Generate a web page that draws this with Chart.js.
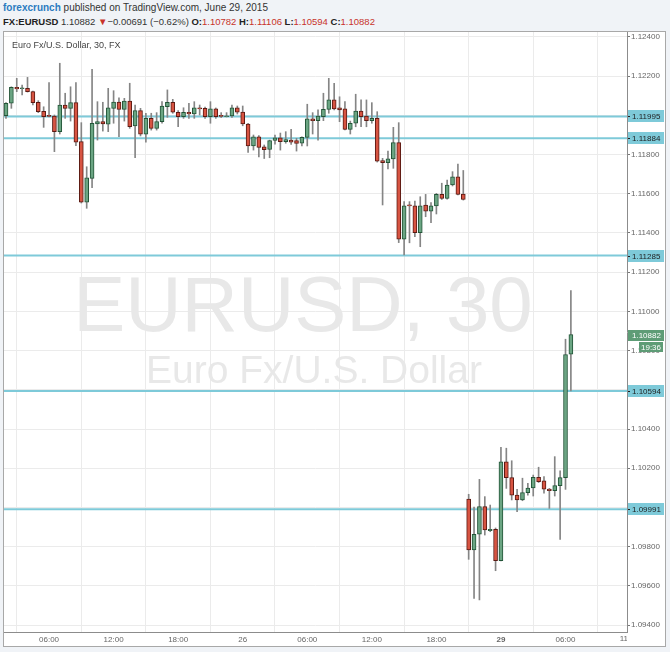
<!DOCTYPE html>
<html lang="en">
<head>
  <meta charset="UTF-8">
  <title>EURUSD, 30</title>
  <script src="https://cdn.jsdelivr.net/npm/chart.js"></script>
  <style>
    body { margin:0; width:670px; height:652px; overflow:hidden; position:relative;
           background:#f0f3f7; font-family: Arial, "Liberation Sans", sans-serif; }
    .hdr1 { position:absolute; left:3px; top:2px; font-size:10px; color:#333; white-space:nowrap; }
    .hdr1 .who { color:#2b7bbf; font-weight:bold; }
    .hdr2 { position:absolute; left:3px; top:16px; font-size:9.5px; color:#333; white-space:nowrap; }
    .hdr2 b { color:#222; }
    .red { color:#c8332b; }
    .box { position:absolute; left:3px; top:31px; width:661px; height:614px; background:#fff; border:1px solid #a8a8a8; }
    .legend { position:absolute; left:8px; top:8px; font-size:9px; color:#444; }
    canvas { position:absolute; left:0; top:0; }
  </style>
</head>
<body>
  <div class="hdr1"><span class="who">forexcrunch</span> published on TradingView.com, June 29, 2015</div>
  <div class="hdr2"><b>FX:EURUSD</b> 1.10882 <span class="red">&#9660;</span>&minus;0.00691 (&minus;0.62%) <b>O:</b><span class="red">1.10782</span> <b>H:</b><span class="red">1.11106</span> <b>L:</b><span class="red">1.10594</span> <b>C:</b><span class="red">1.10882</span></div>

  <div class="box">
    <canvas id="chart" width="661" height="614"></canvas>
    <div class="legend">Euro Fx/U.S. Dollar, 30, FX</div>
  </div>

  <script>
    // 30 min candles, Thu 25 Jun 02:00 .. Mon 29 Jun 06:30 (weekend gap skipped)
    const open = [
      1.11998,1.12062,1.12143,1.12136,1.12138,1.12121,1.12067,1.12021,1.11998,1.11997,
      1.11917,1.12053,1.12036,1.12065,1.11866,1.11557,1.11679,1.11956,1.11968,1.11955,
      1.12036,1.12068,1.12031,1.12073,1.11946,1.12024,1.11904,1.11985,1.11934,1.11968,
      1.12044,1.12067,1.12016,1.11993,1.12016,1.12007,1.12039,1.12036,1.11993,1.12033,
      1.11997,1.11993,1.11997,1.12039,1.12017,1.11956,1.11844,1.11891,1.11839,1.11826,
      1.11872,1.11885,1.11866,1.11874,1.11871,1.11858,1.11888,1.11982,1.11973,1.11993,
      1.12031,1.12079,1.12039,1.12033,1.11929,1.11960,1.12022,1.11997,1.11973,1.11985,
      1.11769,1.11759,1.11778,1.11861,1.11369,1.11540,1.11539,1.11402,1.11543,1.11512,
      1.11538,1.11597,1.11577,1.11645,1.11687,1.11599,
      1.10043,1.09783,1.09863,1.10004,1.09881,1.09888,1.09728,1.10232,1.10152,1.10063,
      1.10038,1.10075,1.10099,1.10154,1.10135,1.10094,1.10085,1.10111,1.10152,1.10782
    ];
    const high = [
      1.12066,1.12146,1.12189,1.12155,1.12194,1.12124,1.12075,1.12044,1.12167,1.12002,
      1.12266,1.12113,1.12146,1.12167,1.11963,1.11738,1.12235,1.12070,1.12067,1.12138,
      1.12126,1.12090,1.12087,1.12164,1.12053,1.12036,1.12011,1.12011,1.12014,1.12070,
      1.12130,1.12082,1.12024,1.12039,1.12062,1.12070,1.12053,1.12043,1.12070,1.12038,
      1.12014,1.12014,1.12053,1.12048,1.12048,1.11960,1.11900,1.11897,1.11849,1.11874,
      1.11900,1.11910,1.11917,1.11929,1.11883,1.11891,1.12057,1.12014,1.12028,1.12113,
      1.12189,1.12164,1.12095,1.12070,1.11971,1.12108,1.12079,1.12079,1.12065,1.12019,
      1.11781,1.11818,1.11939,1.11963,1.11560,1.11560,1.11563,1.11585,1.11597,1.11555,
      1.11602,1.11654,1.11670,1.11713,1.11751,1.11719,
      1.10067,1.10002,1.10143,1.10055,1.10012,1.09895,1.10307,1.10302,1.10238,1.10092,
      1.10149,1.10123,1.10165,1.10205,1.10157,1.10097,1.10259,1.10187,1.10858,1.11106
    ];
    const low = [
      1.11985,1.12036,1.12121,1.12104,1.12119,1.12053,1.12014,1.11939,1.11992,1.11815,
      1.11905,1.11985,1.11971,1.11845,1.11553,1.11526,1.11631,1.11874,1.11920,1.11917,
      1.11960,1.11891,1.11971,1.11934,1.11784,1.11895,1.11863,1.11925,1.11925,1.11960,
      1.11990,1.12011,1.11942,1.11985,1.11985,1.11985,1.12002,1.11985,1.11960,1.11985,
      1.11989,1.11992,1.11990,1.12007,1.11947,1.11811,1.11823,1.11788,1.11780,1.11784,
      1.11853,1.11823,1.11858,1.11852,1.11818,1.11844,1.11844,1.11905,1.11874,1.11973,
      1.12011,1.12028,1.11968,1.11926,1.11905,1.11942,1.11942,1.11942,1.11960,1.11762,
      1.11543,1.11727,1.11730,1.11351,1.11288,1.11350,1.11381,1.11330,1.11483,1.11453,
      1.11497,1.11571,1.11573,1.11640,1.11594,1.11568,
      1.09735,1.09536,1.09528,1.09859,1.09876,1.09677,1.09727,1.10097,1.10038,1.09978,
      1.10034,1.10063,1.10058,1.10127,1.10072,1.09995,1.10058,1.09837,1.10092,1.10594
    ];
    const close = [
      1.12062,1.12143,1.12135,1.12138,1.12121,1.12065,1.12019,1.11993,1.11995,1.11917,
      1.12053,1.12036,1.12065,1.11863,1.11557,1.11682,1.11960,1.11968,1.11956,1.12039,
      1.12068,1.12031,1.12073,1.11942,1.12024,1.11904,1.11985,1.11934,1.11968,1.12048,
      1.12067,1.12016,1.11993,1.12016,1.12007,1.12039,1.12033,1.11993,1.12033,1.11993,
      1.11995,1.11998,1.12039,1.12016,1.11956,1.11844,1.11891,1.11836,1.11825,1.11872,
      1.11886,1.11866,1.11876,1.11864,1.11857,1.11888,1.11982,1.11973,1.11997,1.12031,
      1.12079,1.12033,1.12028,1.11929,1.11960,1.12022,1.11993,1.11973,1.11985,1.11766,
      1.11759,1.11778,1.11861,1.11369,1.11539,1.11538,1.11402,1.11539,1.11512,1.11538,
      1.11597,1.11577,1.11645,1.11687,1.11597,1.11571,
      1.09783,1.09863,1.10004,1.09885,1.09888,1.09728,1.10232,1.10152,1.10063,1.10038,
      1.10075,1.10099,1.10154,1.10131,1.10093,1.10085,1.10111,1.10152,1.10780,1.10882
    ];

    // horizontal levels drawn on the chart
    const levels = [1.11995, 1.11884, 1.11285, 1.10594, 1.09991];

    // price axis
    const priceTicks = [1.094, 1.096, 1.098, 1.100, 1.102, 1.104, 1.106, 1.108,
                        1.110, 1.112, 1.114, 1.116, 1.118, 1.120, 1.122, 1.124];
    // time axis (bar index -> label)
    const timeTickIdx = [8, 20, 32, 44, 56, 68, 80, 92, 104, 116];
    const timeTickLabels = ['06:00','12:00','18:00','26','06:00','12:00','18:00','29','06:00','11:00'];

    const lastPrice = 1.10882;
    const countdown = '19:36';

    const UP = '#6ba583', UP_EDGE = '#225437';
    const DOWN = '#d75442', DOWN_EDGE = '#5b1a13';
    const WICK = '#858585';
    const CYAN = '#7ecad9';
    const X_MIN = -0.37, X_MAX = 115.43;
    const Y_MIN = 1.093643, Y_MAX = 1.124255;
    const FONT = 'Arial, "Liberation Sans", sans-serif';

    const idx = open.map((_, i) => i);
    const isUp = i => close[i] >= open[i];

    const watermark = {
      id: 'watermark',
      beforeDatasetsDraw(chart) {
        const { ctx, chartArea: a } = chart;
        ctx.save();
        ctx.fillStyle = '#e8e8e8';
        ctx.textAlign = 'center';
        ctx.textBaseline = 'middle';
        ctx.font = '78px ' + FONT;
        ctx.fillText('EURUSD, 30', a.left + 299, a.top + 277);
        ctx.font = '39px ' + FONT;
        ctx.fillText('Euro Fx/U.S. Dollar', a.left + 310, a.top + 340);
        ctx.restore();
      }
    };

    const priceLabels = {
      id: 'priceLabels',
      afterDraw(chart) {
        const { ctx, chartArea: a, scales: { x, y } } = chart;
        ctx.save();
        ctx.font = '8px ' + FONT;
        ctx.textBaseline = 'middle';
        ctx.textAlign = 'left';
        levels.forEach(lv => {
          const py = Math.round(y.getPixelForValue(lv));
          ctx.fillStyle = CYAN;
          ctx.fillRect(a.right + 1, py - 6, 36, 12);
          ctx.fillStyle = '#1e1e1e';
          ctx.fillRect(a.right + 1, py, 2, 1);
          ctx.fillText(lv.toFixed(5), a.right + 5, py + 0.5);
        });
        const py = Math.round(y.getPixelForValue(lastPrice));
        ctx.fillStyle = '#5e9c76';
        ctx.fillRect(a.right + 1, py - 5, 36, 11);
        ctx.fillRect(a.right + 12, py + 7, 24, 10);
        ctx.fillStyle = '#fff';
        ctx.fillText(lastPrice.toFixed(5), a.right + 5, py + 0.5);
        ctx.fillText(countdown, a.right + 14, py + 12.5);

        // last time label, cut by the price axis
        const lastI = timeTickIdx.length - 1;
        ctx.beginPath();
        ctx.rect(a.left, a.bottom, a.right - a.left, 20);
        ctx.clip();
        ctx.fillStyle = '#666';
        ctx.textAlign = 'right';
        ctx.fillText(timeTickLabels[lastI], x.getPixelForValue(timeTickIdx[lastI]) + 9, a.bottom + 7);
        ctx.restore();
      }
    };

    new Chart(document.getElementById('chart'), {
      type: 'bar',
      data: {
        datasets: [
          {
            label: 'body',
            data: idx.map(i => ({ x: i, y: [open[i], close[i]] })),
            backgroundColor: idx.map(i => isUp(i) ? UP : DOWN),
            borderColor: idx.map(i => isUp(i) ? UP_EDGE : DOWN_EDGE),
            borderWidth: 1,
            borderSkipped: false,
            barThickness: 4,
            minBarLength: 1,
            grouped: false,
            order: 1
          },
          {
            label: 'wick',
            data: idx.map(i => ({ x: i, y: [low[i], high[i]] })),
            backgroundColor: WICK,
            barThickness: 1,
            grouped: false,
            order: 2
          },
          ...levels.map(lv => ({
            type: 'line',
            label: 'level ' + lv,
            data: [{ x: X_MIN, y: lv }, { x: X_MAX, y: lv }],
            borderColor: CYAN,
            borderWidth: 2,
            pointRadius: 0,
            order: 3
          }))
        ]
      },
      options: {
        responsive: false,
        animation: false,
        events: [],
        layout: { padding: 0 },
        plugins: { legend: { display: false }, tooltip: { enabled: false } },
        scales: {
          x: {
            type: 'linear',
            min: X_MIN, max: X_MAX,
            offset: false,
            afterBuildTicks: s => { s.ticks = timeTickIdx.filter(v => v <= X_MAX).map(v => ({ value: v })); },
            afterFit: s => { s.height = 14; s.paddingLeft = 0; s.paddingRight = 0; },
            grid: { color: '#ebebeb', drawTicks: false },
            border: { display: true, color: '#8c8c8c' },
            ticks: {
              padding: 3,
              maxRotation: 0,
              autoSkip: false,
              color: '#666',
              font: c => ({ family: FONT, size: 8, weight: c.tick && timeTickLabels[timeTickIdx.indexOf(c.tick.value)] === '29' ? 'bold' : 'normal' }),
              callback: v => timeTickLabels[timeTickIdx.indexOf(v)]
            }
          },
          y: {
            position: 'right',
            min: Y_MIN, max: Y_MAX,
            afterBuildTicks: s => { s.ticks = priceTicks.map(v => ({ value: v })); },
            afterFit: s => { s.width = 38; s.paddingTop = 0; s.paddingBottom = 0; },
            grid: { color: '#ebebeb', tickColor: '#777', tickLength: 3 },
            border: { display: true, color: '#8c8c8c' },
            ticks: {
              padding: 1,
              color: '#666',
              font: { family: FONT, size: 8 },
              callback: v => v.toFixed(5)
            }
          }
        }
      },
      plugins: [watermark, priceLabels]
    });
  </script>
</body>
</html>
